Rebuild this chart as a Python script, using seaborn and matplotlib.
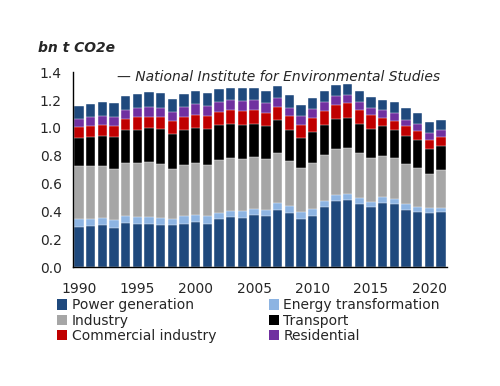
import matplotlib
matplotlib.use("Agg")
import matplotlib.pyplot as plt
import seaborn as sns
import numpy as np
import pandas as pd
from matplotlib.patches import Patch

years = list(range(1990, 2022))
power = [0.290, 0.294, 0.301, 0.284, 0.320, 0.311, 0.311, 0.306, 0.299, 0.313,
         0.323, 0.313, 0.342, 0.361, 0.354, 0.371, 0.364, 0.412, 0.386, 0.347,
         0.369, 0.434, 0.475, 0.480, 0.455, 0.431, 0.463, 0.451, 0.412, 0.393,
         0.388, 0.393]
energy = [0.057, 0.055, 0.053, 0.051, 0.049, 0.046, 0.050, 0.048, 0.046, 0.051,
          0.050, 0.051, 0.046, 0.044, 0.046, 0.048, 0.046, 0.051, 0.050, 0.046,
          0.050, 0.043, 0.045, 0.043, 0.044, 0.039, 0.041, 0.041, 0.041, 0.036,
          0.034, 0.034]
industry = [0.376, 0.374, 0.369, 0.373, 0.380, 0.388, 0.391, 0.388, 0.361, 0.369,
            0.374, 0.371, 0.378, 0.378, 0.378, 0.369, 0.363, 0.359, 0.325, 0.318,
            0.330, 0.328, 0.328, 0.332, 0.318, 0.316, 0.296, 0.294, 0.289, 0.284,
            0.248, 0.269]
transport = [0.205, 0.214, 0.219, 0.225, 0.234, 0.243, 0.248, 0.251, 0.251, 0.255,
             0.255, 0.255, 0.253, 0.248, 0.244, 0.241, 0.241, 0.233, 0.227, 0.219,
             0.222, 0.214, 0.217, 0.215, 0.212, 0.207, 0.210, 0.202, 0.203, 0.200,
             0.178, 0.176]
commercial = [0.077, 0.077, 0.077, 0.081, 0.080, 0.087, 0.080, 0.084, 0.089, 0.089,
              0.094, 0.097, 0.097, 0.097, 0.098, 0.099, 0.094, 0.092, 0.096, 0.092,
              0.101, 0.104, 0.101, 0.106, 0.099, 0.099, 0.062, 0.060, 0.065, 0.063,
              0.063, 0.061]
residential = [0.058, 0.061, 0.065, 0.063, 0.065, 0.065, 0.069, 0.068, 0.065, 0.070,
               0.073, 0.070, 0.072, 0.070, 0.073, 0.070, 0.068, 0.065, 0.061, 0.062,
               0.063, 0.065, 0.063, 0.058, 0.058, 0.053, 0.053, 0.060, 0.050, 0.051,
               0.050, 0.050]
other = [0.096, 0.098, 0.099, 0.099, 0.101, 0.103, 0.106, 0.103, 0.096, 0.099,
         0.098, 0.096, 0.094, 0.091, 0.091, 0.091, 0.091, 0.092, 0.089, 0.080,
         0.079, 0.079, 0.077, 0.082, 0.077, 0.079, 0.077, 0.078, 0.082, 0.077,
         0.078, 0.077]

series_names = ["Power generation", "Energy transformation", "Industry",
                "Transport", "Commercial industry", "Residential", "Other"]
series_vals = [power, energy, industry, transport, commercial, residential, other]
colors = ["#1F497D", "#8DB4E2", "#A6A6A6", "#000000", "#C00000", "#7030A0", "#1F497D"]

sns.set_style("white")
plt.rcParams['font.family'] = ['DejaVu Sans']

fig = plt.figure(figsize=(5.0, 3.86), dpi=100)
ax = fig.add_axes([0.146, 0.308, 0.748, 0.505])

cum = np.cumsum(np.array(series_vals), axis=0)
df = pd.DataFrame({"year": [str(y) for y in years]})
for i in range(len(series_names) - 1, -1, -1):
    df["v"] = cum[i]
    sns.barplot(data=df, x="year", y="v", color=colors[i], saturation=1,
                width=0.8, ax=ax, edgecolor="white", linewidth=0.3)

n = len(years)
ax.set_xlim(-0.5, n - 0.5)
ax.set_ylim(0, 1.4)
ax.set_yticks(np.arange(0, 1.41, 0.2))
ax.set_yticklabels([f"{v:.1f}" for v in np.arange(0, 1.41, 0.2)], fontsize=10)
lab_idx = [i for i, y in enumerate(years) if y % 5 == 0]
ax.set_xticks(lab_idx)
ax.set_xticklabels([str(years[i]) for i in lab_idx], fontsize=10)
ax.set_xticks(np.arange(-0.5, n, 1), minor=True)
ax.tick_params(axis="x", which="major", length=0, pad=11)
ax.tick_params(axis="x", which="minor", length=4, width=1, direction="out", color="black")
ax.tick_params(axis="y", length=5, width=1, direction="out", color="black", pad=3)
ax.set_xlabel("")
ax.set_ylabel("")
for s in ["top", "right"]:
    ax.spines[s].set_visible(False)
for s in ["left", "bottom"]:
    ax.spines[s].set_color("black")
    ax.spines[s].set_linewidth(1)

fig.text(0.076, 0.876, "bn t CO2e", fontsize=10, fontweight="bold",
         fontstyle="italic", va="center", ha="left")
fig.text(0.234, 0.80, "\u2014 National Institute for Environmental Studies",
         fontsize=10, fontstyle="italic", va="center", ha="left")

order = [0, 2, 4, 1, 3, 5]
handles = [Patch(facecolor=colors[i], edgecolor="none") for i in order]
labels = [series_names[i] for i in order]
fig.legend(handles, labels, ncol=2, loc="upper left", bbox_to_anchor=(0.1, 0.245),
           frameon=False, fontsize=10, handlelength=0.75, handleheight=0.75,
           handletextpad=0.3, columnspacing=3.8, labelspacing=0.1, borderpad=0)

fig.savefig("out.png", dpi=100)
